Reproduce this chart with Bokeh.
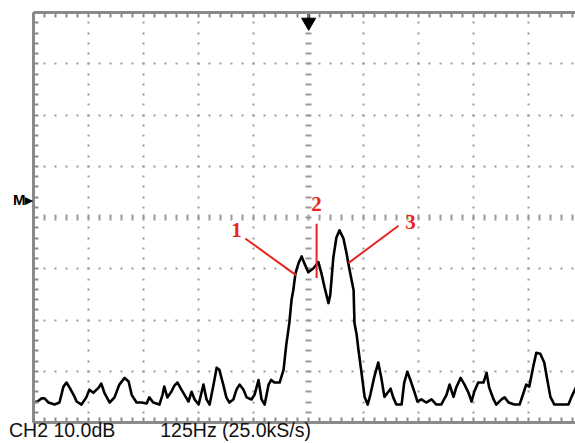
import numpy as np
from bokeh.plotting import figure
from bokeh.models import FixedTicker, LinearAxis, Grid, Range1d
from bokeh.core.properties import value
from bokeh.embed import file_html
from bokeh.resources import INLINE

# ---- data (FFT spectrum, CH2) ----
freq_hz = [0, 9, 18, 25, 34, 48, 59, 68, 75, 82, 91, 98, 109, 120, 127, 136, 148, 154, 161, 173,
           184, 195, 207, 216, 223, 234, 245, 257, 263, 272, 286, 293, 297, 304, 313, 320, 327, 336, 343, 352,
           359, 366, 375, 386, 393, 400, 409, 416, 422, 431, 438, 445, 454, 461, 468, 477, 484, 495, 502, 511,
           518, 525, 534, 540, 547, 559, 568, 574, 581, 586, 590, 595, 602, 609, 615, 624, 636, 647, 654, 661,
           670, 674, 681, 688, 695, 704, 711, 718, 727, 729, 734, 738, 745, 752, 759, 765, 774, 783, 790, 797,
           806, 811, 817, 824, 836, 842, 849, 856, 865, 872, 881, 892, 904, 915, 926, 938, 945, 954, 960, 970,
           979, 988, 995, 1001, 1010, 1022, 1029, 1035, 1045, 1051, 1063, 1070, 1079, 1092, 1104, 1113, 1119, 1126, 1135, 1142,
           1151, 1160, 1167, 1174, 1183, 1215, 1222, 1233]
level_db = [3.9, 4.1, 4.7, 4.7, 3.9, 3.5, 3.9, 7.0, 7.8, 6.8, 5.4, 4.1, 3.5, 4.9, 6.4, 5.8, 6.8, 7.6, 5.8, 3.9,
            4.9, 7.4, 8.7, 8.0, 5.4, 3.9, 3.9, 3.7, 4.9, 3.9, 3.5, 5.4, 7.0, 4.9, 6.0, 7.2, 7.8, 6.4, 5.4, 4.1,
            6.0, 4.5, 3.5, 7.4, 4.5, 3.5, 7.4, 10.7, 10.3, 7.4, 4.9, 3.9, 4.5, 6.4, 7.4, 6.4, 4.9, 4.5, 5.4, 8.3,
            4.5, 3.5, 7.4, 8.3, 7.8, 7.8, 10.3, 15.1, 19.4, 23.9, 25.8, 29.1, 31.1, 32.4, 31.1, 29.3, 30.1, 31.3, 29.1, 26.4,
            23.3, 24.9, 32.2, 36.1, 37.5, 35.9, 33.0, 29.7, 25.8, 19.4, 17.1, 14.2, 9.7, 5.0, 3.5, 5.4, 8.9, 11.7, 8.7, 5.0,
            6.0, 6.6, 4.9, 3.5, 3.5, 7.8, 9.9, 8.3, 6.0, 4.1, 4.5, 3.9, 4.5, 3.5, 3.5, 5.4, 7.4, 5.0, 6.8, 8.7,
            7.4, 5.8, 4.1, 6.0, 7.8, 7.8, 9.7, 6.8, 4.5, 3.5, 4.5, 4.9, 3.9, 3.5, 3.5, 5.8, 7.4, 7.0, 10.9, 13.6,
            13.4, 11.7, 8.3, 5.0, 3.5, 3.5, 5.0, 7.0]
assert len(freq_hz) == len(level_db)

# scope settings
hz_per_div = 125
db_per_div = 10
n_div_x = 10
n_div_y = 8
trigger_hz = 625
ref_level_db = 43.5
ref_marker = "M\u25B8"
status_texts = ["CH2 10.0dB", "125Hz (25.0kS/s)"]
status_center_hz = [65, 459]

# red annotations
peak_ids = ["1", "2", "3"]
peak_label_hz = [461, 643, 856]
peak_label_db = [37.5, 42.7, 39.2]
pointer_from_hz = [481, 643, 829]
pointer_from_db = [35.9, 38.8, 38.4]
pointer_to_hz = [597, 643, 715]
pointer_to_db = [28.7, 28.2, 31.1]

# ---- styling ----
BORDER = "#8a8a8a"
GRID = "#9a9a9a"
RED = "#e5261f"
DASH_V = "2 8 2 8 2 9 2 8"   # ~10.25 px period (1/5 vertical division)
DASH_H = "2 9"               # ~11 px period (1/5 horizontal division)
visible_hz = 1231
y_top = n_div_y * db_per_div

p = figure(width=575, height=443, x_range=Range1d(0, visible_hz), y_range=Range1d(0, y_top),
           output_backend="svg", toolbar_location=None,
           min_border_left=33, min_border_right=0, min_border_top=12, min_border_bottom=21)
p.outline_line_color = None
p.background_fill_color = "white"
p.border_fill_color = "white"
p.xgrid.visible = False
p.ygrid.visible = False

x_minor = list(np.arange(0, visible_hz + 1, hz_per_div / 5))
y_minor = list(np.arange(0, y_top + 0.01, db_per_div / 5))


def style_border(ax, ticks):
    ax.ticker = FixedTicker(ticks=ticks)
    ax.major_tick_in = 5
    ax.major_tick_out = 0
    ax.minor_tick_in = 0
    ax.minor_tick_out = 0
    ax.major_tick_line_color = BORDER
    ax.major_tick_line_width = 2
    ax.axis_line_color = BORDER
    ax.axis_line_width = 3
    ax.major_label_text_font_size = "0px"
    ax.major_label_standoff = 0
    ax.axis_label = None


def style_text_axis(ax, ticks, labels, size, bold, standoff=0):
    ax.ticker = FixedTicker(ticks=ticks)
    ax.major_label_overrides = dict(zip(ticks, labels))
    ax.axis_line_color = None
    ax.major_tick_line_color = None
    ax.minor_tick_line_color = None
    ax.major_tick_in = 0
    ax.major_tick_out = 0
    ax.minor_tick_in = 0
    ax.minor_tick_out = 0
    ax.major_label_standoff = standoff
    ax.major_label_text_font = "Liberation Sans"
    ax.major_label_text_font_size = size
    ax.major_label_text_font_style = "bold" if bold else "normal"
    ax.major_label_text_color = "#111111"
    ax.axis_label = None


style_border(p.xaxis[0], x_minor)
style_border(p.yaxis[0], y_minor)
top_axis = LinearAxis()
style_border(top_axis, x_minor)
p.add_layout(top_axis, "above")

# status line under the graticule and the reference-level marker at the left
status_axis = LinearAxis()
style_text_axis(status_axis, [float(v) for v in status_center_hz], status_texts, "19.5px", False, standoff=-4)
p.add_layout(status_axis, "below")
marker_axis = LinearAxis()
style_text_axis(marker_axis, [ref_level_db], [ref_marker], "15px", True)
marker_axis.major_label_text_color = "black"
p.add_layout(marker_axis, "left")

# dotted graticule
x_div = [hz_per_div * i for i in range(1, n_div_x) if hz_per_div * i != trigger_hz]
y_div = [db_per_div * i for i in range(1, n_div_y) if db_per_div * i != y_top / 2]
grids = [
    Grid(dimension=0, ticker=FixedTicker(ticks=x_div), grid_line_width=2, grid_line_dash=DASH_V),
    Grid(dimension=1, ticker=FixedTicker(ticks=y_div), grid_line_width=2, grid_line_dash=DASH_H),
    Grid(dimension=0, ticker=FixedTicker(ticks=[trigger_hz]), grid_line_width=6, grid_line_dash=DASH_V),
    Grid(dimension=1, ticker=FixedTicker(ticks=[y_top / 2]), grid_line_width=6, grid_line_dash=DASH_H),
]
for g in grids:
    g.grid_line_color = GRID
    g.grid_line_dash_offset = 1
    p.add_layout(g)

# trace
p.line(freq_hz, level_db, line_color="black", line_width=2.6, line_join="round")

# peak annotations
p.segment(x0=pointer_from_hz, y0=pointer_from_db, x1=pointer_to_hz, y1=pointer_to_db,
          line_color=RED, line_width=2)
p.text(x=peak_label_hz, y=peak_label_db, text=peak_ids, text_font=value("Liberation Serif"),
       text_font_style="bold", text_font_size="21px", text_color=RED,
       text_align="center", text_baseline="middle")

# trigger arrow at top
p.segment(x0=[trigger_hz], y0=[y_top], x1=[trigger_hz], y1=[y_top - 1.2], line_color="black", line_width=3)
p.scatter(x=[trigger_hz], y=[y_top - 1.9], marker="inverted_triangle", size=14,
          fill_color="black", line_color="black")

open("out.html", "w").write(file_html(p, INLINE))
